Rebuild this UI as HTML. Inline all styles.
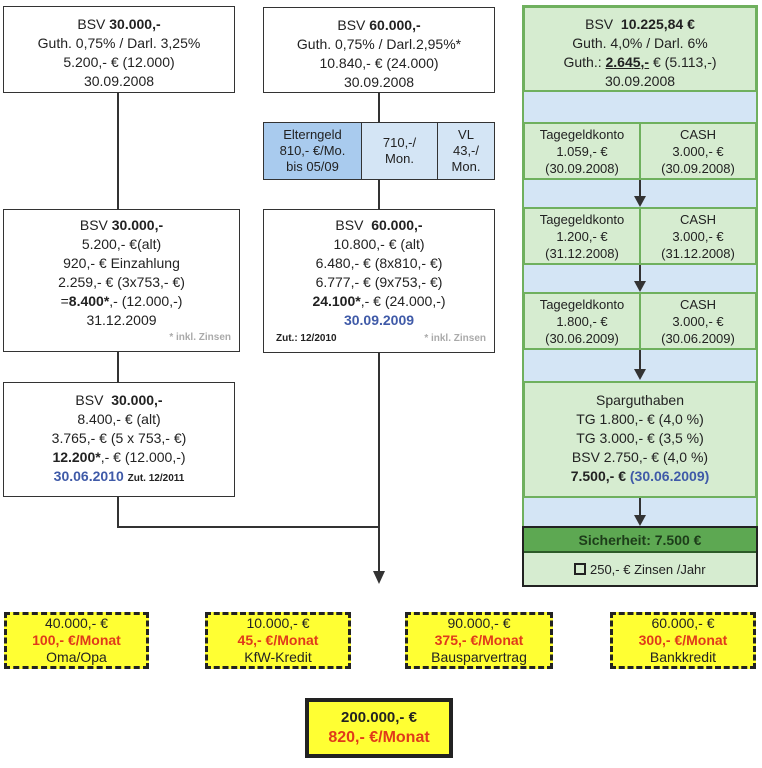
<!DOCTYPE html>
<html><head><meta charset="utf-8"><style>
body{margin:0;width:762px;height:768px;background:#fff;position:relative;overflow:hidden;font-family:"Liberation Sans",sans-serif;color:#222}
.b{position:absolute;box-sizing:border-box;text-align:center;font-size:14px;line-height:19px}
.w{border:1.5px solid #333;background:#fff}
.g{background:#d6ecd0;border:2px solid #6fb05e}
.y{background:#ffff33;border:3px dashed #222;font-size:14px;line-height:17px;padding-top:0;font-family:"Liberation Sans Narrow","Liberation Sans",sans-serif}
.r{color:#e03a1a;font-weight:bold}
.bl{color:#3f5aa8;font-weight:bold}
.s{font-size:10px;font-weight:bold;color:#aaa}
.l{position:absolute;background:#333}
</style></head><body>
<div class="l" style="left:117px;top:93px;width:2px;height:116px"></div>
<div class="l" style="left:378px;top:93px;width:2px;height:29px"></div>
<div class="l" style="left:378px;top:180px;width:2px;height:29px"></div>
<div class="l" style="left:117px;top:352px;width:2px;height:30px"></div>
<div class="l" style="left:117px;top:497px;width:2px;height:30px"></div>
<div class="l" style="left:117px;top:526px;width:263px;height:2px"></div>
<div class="l" style="left:378px;top:353px;width:2px;height:222px"></div>
<div style="position:absolute;left:373px;top:571px;width:0;height:0;border-left:6px solid transparent;border-right:6px solid transparent;border-top:13px solid #333"></div>

<div class="b w" style="left:3px;top:6px;width:232px;height:87px;padding-top:8px">BSV <b>30.000,-</b><br>Guth. 0,75% / Darl. 3,25%<br>5.200,- € (12.000)<br>30.09.2008</div>
<div class="b w" style="left:263px;top:7px;width:232px;height:86px;padding-top:8px">BSV <b>60.000,-</b><br>Guth. 0,75% / Darl.2,95%*<br>10.840,- € (24.000)<br>30.09.2008</div>

<div class="b" style="left:263px;top:122px;width:232px;height:58px;border:1.5px solid #333;display:flex;font-size:13px;line-height:16px">
<div style="width:97px;background:#a9cbee;border-right:1.5px solid #333;padding-top:4px">Elterngeld<br>810,- €/Mo.<br>bis 05/09</div>
<div style="width:75px;background:#d4e5f5;border-right:1.5px solid #333;padding-top:12px">710,-/<br>Mon.</div>
<div style="flex:1;background:#d4e5f5;padding-top:4px">VL<br>43,-/<br>Mon.</div></div>

<div class="b w" style="left:3px;top:209px;width:237px;height:143px;padding-top:6px">BSV <b>30.000,-</b><br>5.200,- €(alt)<br>920,- € Einzahlung<br>2.259,- € (3x753,- €)<br>=<b>8.400*</b>,- (12.000,-)<br>31.12.2009
<div class="s" style="position:absolute;right:8px;bottom:4px">* inkl. Zinsen</div></div>
<div class="b w" style="left:263px;top:209px;width:232px;height:144px;padding-top:6px">BSV &nbsp;<b>60.000,-</b><br>10.800,- € (alt)<br>6.480,- € (8x810,- €)<br>6.777,- € (9x753,- €)<br><b>24.100*</b>,- € (24.000,-)<br><span class="bl">30.09.2009</span>
<div style="position:absolute;left:12px;bottom:4px;font-size:10px;font-weight:bold;color:#222">Zut.: 12/2010</div>
<div class="s" style="position:absolute;right:8px;bottom:4px">* inkl. Zinsen</div></div>

<div class="b w" style="left:3px;top:382px;width:232px;height:115px;padding-top:8px">BSV &nbsp;<b>30.000,-</b><br>8.400,- € (alt)<br>3.765,- € (5 x 753,- €)<br><b>12.200*</b>,- € (12.000,-)<br><span class="bl">30.06.2010</span> <span style="font-size:10px;font-weight:bold">Zut. 12/2011</span></div>

<div style="position:absolute;left:522px;top:5px;width:236px;height:582px;border:2px solid #6fb05e;box-sizing:border-box;background:#d4e5f5"></div>
<div class="b g" style="left:523px;top:6px;width:234px;height:86px;padding-top:7px">BSV &nbsp;<b>10.225,84 €</b><br>Guth. 4,0% / Darl. 6%<br>Guth.: <b><u>2.645,-</u></b> € (5.113,-)<br>30.09.2008</div>
<div class="b g" style="left:523px;top:122px;width:118px;height:58px;padding-top:2px;font-size:13px;line-height:17px">Tagegeldkonto<br>1.059,- €<br>(30.09.2008)</div>
<div class="b g" style="left:639px;top:122px;width:118px;height:58px;padding-top:2px;font-size:13px;line-height:17px">CASH<br>3.000,- €<br>(30.09.2008)</div>
<div class="b g" style="left:523px;top:207px;width:118px;height:58px;padding-top:2px;font-size:13px;line-height:17px">Tagegeldkonto<br>1.200,- €<br>(31.12.2008)</div>
<div class="b g" style="left:639px;top:207px;width:118px;height:58px;padding-top:2px;font-size:13px;line-height:17px">CASH<br>3.000,- €<br>(31.12.2008)</div>
<div class="b g" style="left:523px;top:292px;width:118px;height:58px;padding-top:2px;font-size:13px;line-height:17px">Tagegeldkonto<br>1.800,- €<br>(30.06.2009)</div>
<div class="b g" style="left:639px;top:292px;width:118px;height:58px;padding-top:2px;font-size:13px;line-height:17px">CASH<br>3.000,- €<br>(30.06.2009)</div>
<div class="b g" style="left:523px;top:381px;width:234px;height:117px;padding-top:8px">Sparguthaben<br>TG 1.800,- € (4,0 %)<br>TG 3.000,- € (3,5 %)<br>BSV 2.750,- € (4,0 %)<br><b>7.500,- €</b> <span class="bl">(30.06.2009)</span></div>
<div class="l" style="left:639px;top:180px;width:2px;height:17px"></div>
<div style="position:absolute;left:634px;top:196px;border-left:6px solid transparent;border-right:6px solid transparent;border-top:11px solid #333"></div>
<div class="l" style="left:639px;top:265px;width:2px;height:17px"></div>
<div style="position:absolute;left:634px;top:281px;border-left:6px solid transparent;border-right:6px solid transparent;border-top:11px solid #333"></div>
<div class="l" style="left:639px;top:350px;width:2px;height:20px"></div>
<div style="position:absolute;left:634px;top:369px;border-left:6px solid transparent;border-right:6px solid transparent;border-top:11px solid #333"></div>
<div class="l" style="left:639px;top:498px;width:2px;height:18px"></div>
<div style="position:absolute;left:634px;top:515px;border-left:6px solid transparent;border-right:6px solid transparent;border-top:11px solid #333"></div>
<div style="position:absolute;left:522px;top:526px;width:236px;height:61px;border:2px solid #222;box-sizing:border-box;background:#d6ecd0"></div>
<div class="b" style="left:524px;top:528px;width:232px;height:25px;background:#5da852;border-bottom:2px solid #2d5a28;line-height:24px;font-weight:bold;color:#1d3d1a">Sicherheit: 7.500 €</div>
<div class="b" style="left:524px;top:555px;width:232px;height:30px;line-height:30px;font-size:13px"><span style="display:inline-block;width:8px;height:8px;border:2px solid #222;vertical-align:-1px"></span> 250,- € Zinsen /Jahr</div>

<div class="b y" style="left:4px;top:612px;width:145px;height:57px">40.000,- €<br><span class="r">100,- €/Monat</span><br>Oma/Opa</div>
<div class="b y" style="left:205px;top:612px;width:146px;height:57px">10.000,- €<br><span class="r">45,- €/Monat</span><br>KfW-Kredit</div>
<div class="b y" style="left:405px;top:612px;width:148px;height:57px">90.000,- €<br><span class="r">375,- €/Monat</span><br>Bausparvertrag</div>
<div class="b y" style="left:610px;top:612px;width:146px;height:57px">60.000,- €<br><span class="r">300,- €/Monat</span><br>Bankkredit</div>
<div class="b" style="left:305px;top:698px;width:148px;height:60px;background:#ffff33;border:4px solid #222;font-size:15px;line-height:20px;padding-top:6px"><b>200.000,- €</b><br><span class="r" style="font-size:16px">820,- €/Monat</span></div>
</body></html>
